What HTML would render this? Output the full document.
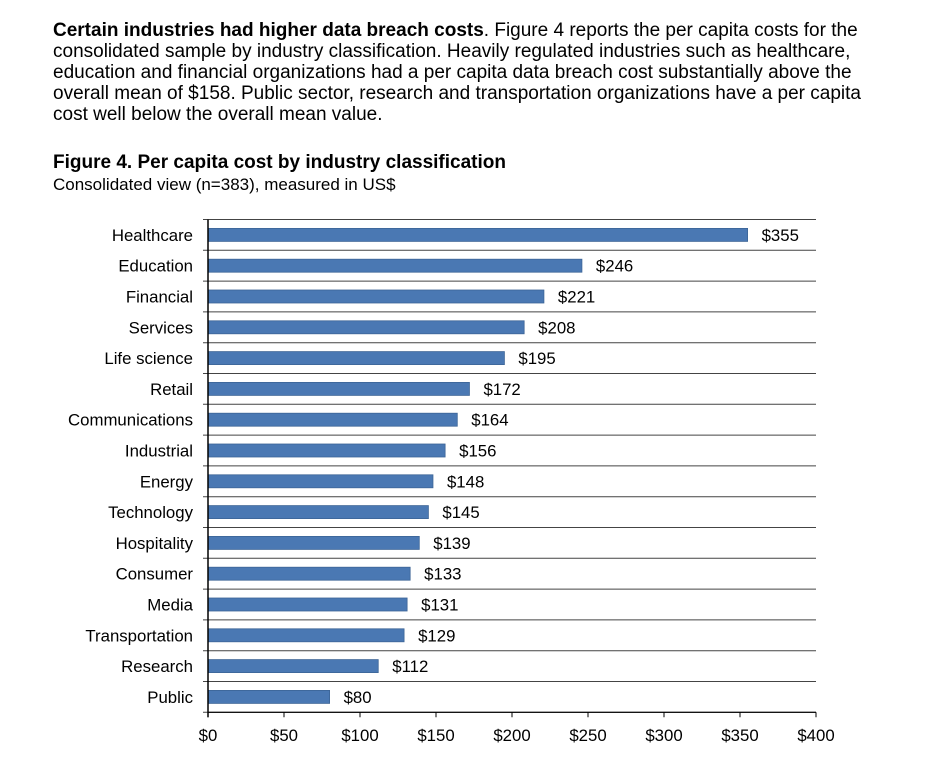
<!DOCTYPE html>
<html><head><meta charset="utf-8"><style>
body{margin:0;background:#fff;width:934px;height:766px;overflow:hidden;font-family:"Liberation Sans",Arial,sans-serif;color:#000}
#intro{position:absolute;left:53px;top:20px;width:880px;font-size:19px;line-height:21px;white-space:nowrap}
#title{position:absolute;left:53px;top:152px;font-size:19px;font-weight:bold}
#sub{position:absolute;left:53px;top:175px;font-size:17px}
svg{position:absolute;left:0;top:0}
svg text{font-family:"Liberation Sans",Arial,sans-serif;font-size:16.8px}
</style></head><body>
<div id="intro"><b>Certain industries had higher data breach costs</b>. Figure 4 reports the per capita costs for the<br>consolidated sample by industry classification. Heavily regulated industries such as healthcare,<br>education and financial organizations had a per capita data breach cost substantially above the<br>overall mean of $158. Public sector, research and transportation organizations have a per capita<br>cost well below the overall mean value.</div>
<div id="title">Figure 4. Per capita cost by industry classification</div>
<div id="sub">Consolidated view (n=383), measured in US$</div>
<svg id="chart" width="934" height="766"></svg>
<script>
const categories=["Healthcare","Education","Financial","Services","Life science","Retail","Communications","Industrial","Energy","Technology","Hospitality","Consumer","Media","Transportation","Research","Public"];
const values=[355,246,221,208,195,172,164,156,148,145,139,133,131,129,112,80];
const ticks=[0,50,100,150,200,250,300,350,400];
const x0=208,scale=1.52,plotTop=219.5,rowH=30.8,xEnd=816;
const svg=document.getElementById('chart');
const NS='http://www.w3.org/2000/svg';
function xs(v){return x0+v*scale;}
function ys(i){return plotTop+i*rowH;}
function mk(t,a){const e=document.createElementNS(NS,t);for(const k in a)e.setAttribute(k,a[k]);svg.appendChild(e);return e;}
for(let i=0;i<=categories.length;i++){
  const g=mk('line',{x1:x0-5,x2:xEnd,y1:ys(i),y2:ys(i),stroke:'#444','stroke-width':1});
  
  
}
categories.forEach((c,i)=>{
  const cy=ys(i)+rowH/2;
  const b=mk('rect',{x:x0,y:cy-6.5,width:values[i]*scale,height:13,fill:'#4a78b3',stroke:'#3c6496','stroke-width':0.8});
  
  
  const l=mk('text',{x:193,y:cy+6,'text-anchor':'end'});l.textContent=c;
  
  
  const v=mk('text',{x:xs(values[i])+14,y:cy+6});v.textContent='$'+values[i];
  
  
});
const ax=mk('line',{x1:x0,x2:x0,y1:plotTop,y2:ys(categories.length)+5,stroke:'#000','stroke-width':1.5});


const bx=mk('line',{x1:x0,x2:xEnd,y1:ys(categories.length),y2:ys(categories.length),stroke:'#000','stroke-width':1.2});


ticks.forEach(t=>{
  const tm=mk('line',{x1:xs(t),x2:xs(t),y1:ys(categories.length),y2:ys(categories.length)+5,stroke:'#000'});
  
  
  const tl=mk('text',{x:xs(t),y:741,'text-anchor':'middle'});tl.textContent='$'+t;
  
  
});
</script>
</body></html>
